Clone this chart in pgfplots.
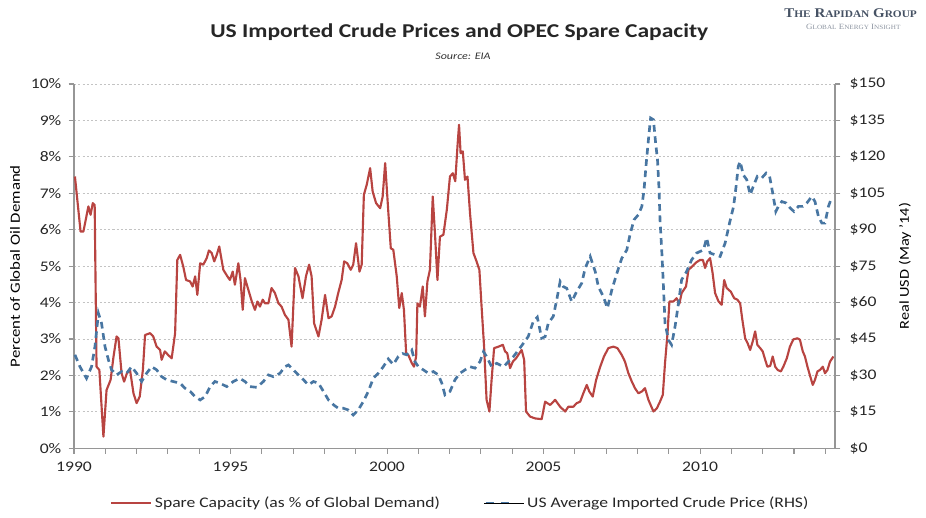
\documentclass[border=0pt]{standalone}
\usepackage{fontspec}
\setmainfont[FakeStretch=1.2]{Carlito}
\newfontfamily\logofont[FakeStretch=1.12]{Liberation Serif}
\usepackage{pgfplots}
\pgfplotsset{compat=1.18}
\definecolor{sparered}{RGB}{184,68,65}
\definecolor{priceblue}{RGB}{72,118,162}
\definecolor{gridgray}{RGB}{195,195,195}
\definecolor{axisgray}{RGB}{150,150,150}
\definecolor{logoblue}{RGB}{70,82,100}
\definecolor{logogray}{RGB}{140,148,160}

\pgfplotsset{
  common/.style={
    width=570.75pt, height=273.225pt, scale only axis,
    at={(55.5pt,52.275pt)}, anchor=south west,
    xmin=1990, xmax=2014.31,
    /pgf/number format/assume math mode=true,
    tick label style={font=\fontsize{11}{13}\selectfont, text=black!85},
    axis line style={-, axisgray, line width=0.8pt},
    tick style={axisgray, line width=0.8pt},
    tick align=outside,
    major tick length=4pt, minor tick length=4pt,
  },
  redlegend/.style={legend image code/.code={\draw[sparered, line width=1.6pt] (0pt,0pt) -- (30pt,0pt);}},
  bluelegend/.style={legend image code/.code={\draw[priceblue, line width=2pt, dash pattern=on 6pt off 5.5pt] (1pt,0pt) -- (18.5pt,0pt); \path (0pt,0pt) -- (30pt,0pt);}},
}

\begin{document}
\begin{tikzpicture}
\useasboundingbox (0,0) rectangle (694.5pt,388.5pt);

% Titles
\node[font=\bfseries\fontsize{14.7}{17}\selectfont, text=black!85] at (344.5pt,364.5pt) {US Imported Crude Prices and OPEC Spare Capacity};
\node[font=\itshape\fontsize{7.5}{9}\selectfont, text=black!80] at (347.25pt,346.5pt) {Source: EIA};
\node[font=\logofont\bfseries\fontsize{10}{12}\selectfont, text=logoblue, inner sep=0pt] at (638pt,378.75pt) {T{\fontsize{7.6}{9}\selectfont HE} R{\fontsize{7.6}{9}\selectfont APIDAN} G{\fontsize{7.6}{9}\selectfont ROUP}};
\node[font=\logofont\fontsize{6}{7}\selectfont, text=logogray, inner sep=0pt] at (640pt,368.25pt) {G{\fontsize{4.8}{6}\selectfont LOBAL} E{\fontsize{4.8}{6}\selectfont NERGY} I{\fontsize{4.8}{6}\selectfont NSIGHT}};

% Left axis: spare capacity
\begin{axis}[common,
  axis x line*=bottom, axis y line*=left,
  ymin=0, ymax=10, ytick={0,1,...,10},
  yticklabel={\pgfmathprintnumber{\tick}\%},
  y tick label style={xshift=-2pt},
  xtick={1990,1995,2000,2005,2010},
  minor xtick={1991,1992,1993,1994,1996,1997,1998,1999,2001,2002,2003,2004,2006,2007,2008,2009,2011,2012,2013,2014},
  xticklabel={\pgfmathprintnumber[1000 sep={}]{\tick}},
  x tick label style={yshift=-2.5pt},
  ymajorgrids,
  grid style={gridgray, dash pattern=on 1.6pt off 1.6pt, line width=0.7pt},
  every axis y label/.style={at={(axis description cs:-0.0775,0.5)}, rotate=90, anchor=center, font=\fontsize{10.5}{12}\selectfont},
  ylabel={Percent of Global Oil Demand},
]
\addplot[sparered, line width=1.6pt, line join=round] coordinates {
(1990.03,7.46) (1990.21,5.95) (1990.30,5.95) (1990.46,6.64) (1990.53,6.41) (1990.60,6.73) (1990.66,6.68)
(1990.72,2.24) (1990.81,2.15) (1990.94,0.32) (1991.04,1.60) (1991.17,1.88) (1991.26,2.50) (1991.36,3.07)
(1991.42,3.02) (1991.52,2.06) (1991.60,1.83) (1991.69,2.06) (1991.79,2.15) (1991.90,1.51) (1992.00,1.24)
(1992.10,1.42) (1992.20,2.15) (1992.27,3.11) (1992.43,3.16) (1992.53,3.07) (1992.64,2.79) (1992.75,2.70)
(1992.80,2.43) (1992.90,2.66) (1993.01,2.56) (1993.12,2.47) (1993.23,3.16) (1993.30,5.17) (1993.39,5.31)
(1993.49,4.99) (1993.58,4.62) (1993.71,4.58) (1993.79,4.44) (1993.87,4.72) (1993.94,4.21) (1994.03,5.08)
(1994.13,5.04) (1994.24,5.22) (1994.31,5.43) (1994.40,5.36) (1994.48,5.13) (1994.56,5.31) (1994.64,5.54)
(1994.77,4.90) (1994.90,4.72) (1994.98,4.62) (1995.07,4.85) (1995.14,4.49) (1995.25,5.08) (1995.32,4.62)
(1995.39,3.80) (1995.46,4.67) (1995.57,4.35) (1995.68,4.03) (1995.78,3.80) (1995.86,4.03) (1995.94,3.89)
(1996.03,4.08) (1996.10,3.98) (1996.21,3.98) (1996.31,4.40) (1996.42,4.26) (1996.53,3.98) (1996.63,3.89)
(1996.74,3.66) (1996.85,3.53) (1996.95,2.79) (1997.06,4.95) (1997.17,4.72) (1997.30,4.12) (1997.41,4.72)
(1997.51,5.04) (1997.59,4.72) (1997.67,3.43) (1997.81,3.07) (1997.91,3.53) (1998.02,4.21) (1998.13,3.57)
(1998.23,3.62) (1998.34,3.89) (1998.44,4.26) (1998.55,4.62) (1998.63,5.13) (1998.73,5.08) (1998.84,4.90)
(1998.92,5.04) (1999.01,5.63) (1999.12,4.85) (1999.19,5.04) (1999.26,6.96) (1999.35,7.23) (1999.46,7.69)
(1999.54,7.05) (1999.65,6.73) (1999.78,6.59) (1999.86,6.91) (1999.94,7.83) (2000.04,6.50) (2000.12,5.49)
(2000.20,5.45) (2000.31,4.72) (2000.39,3.85) (2000.47,4.26) (2000.54,3.80) (2000.61,2.61) (2000.68,2.56)
(2000.79,2.34) (2000.86,2.24) (2000.93,2.52) (2000.97,3.98) (2001.05,3.89) (2001.14,4.44) (2001.21,3.62)
(2001.29,4.58) (2001.37,4.90) (2001.46,6.91) (2001.53,5.91) (2001.61,4.62) (2001.69,5.81) (2001.80,5.86)
(2001.91,6.55) (2002.01,7.46) (2002.10,7.55) (2002.18,7.33) (2002.25,8.29) (2002.30,8.88) (2002.35,8.10)
(2002.42,8.15) (2002.49,7.37) (2002.57,7.46) (2002.65,6.46) (2002.76,5.36) (2002.86,5.13) (2002.95,4.90)
(2003.02,3.89) (2003.10,2.79) (2003.18,1.33) (2003.27,1.01) (2003.34,1.88) (2003.42,2.75) (2003.56,2.79)
(2003.70,2.84) (2003.77,2.66) (2003.84,2.61) (2003.93,2.20) (2004.02,2.38) (2004.12,2.47) (2004.23,2.61)
(2004.30,2.70) (2004.38,2.43) (2004.44,1.01) (2004.57,0.87) (2004.73,0.82) (2004.94,0.80) (2005.05,1.28)
(2005.21,1.19) (2005.37,1.33) (2005.53,1.14) (2005.69,1.01) (2005.79,1.14) (2005.95,1.14) (2006.06,1.24)
(2006.17,1.28) (2006.27,1.51) (2006.38,1.74) (2006.46,1.56) (2006.57,1.42) (2006.68,1.88) (2006.81,2.24)
(2006.93,2.52) (2007.07,2.75) (2007.23,2.79) (2007.36,2.75) (2007.50,2.56) (2007.60,2.38) (2007.71,2.06)
(2007.82,1.83) (2007.92,1.65) (2008.03,1.51) (2008.14,1.56) (2008.24,1.65) (2008.35,1.33) (2008.42,1.19)
(2008.51,1.01) (2008.62,1.10) (2008.72,1.28) (2008.81,1.47) (2008.88,2.34) (2008.96,3.16) (2009.02,4.03)
(2009.15,4.03) (2009.25,4.12) (2009.34,3.97) (2009.41,4.26) (2009.55,4.44) (2009.63,4.90) (2009.76,5.00)
(2009.87,5.10) (2010.00,5.17) (2010.09,5.17) (2010.16,4.95) (2010.23,5.13) (2010.32,5.22) (2010.40,4.81)
(2010.48,4.26) (2010.59,4.03) (2010.69,3.94) (2010.77,4.62) (2010.85,4.40) (2010.98,4.30) (2011.09,4.12)
(2011.19,4.08) (2011.28,3.98) (2011.35,3.53) (2011.44,3.02) (2011.52,2.88) (2011.60,2.70) (2011.68,2.93)
(2011.76,3.21) (2011.83,2.84) (2011.92,2.75) (2012.00,2.66) (2012.08,2.43) (2012.15,2.24) (2012.24,2.26)
(2012.32,2.52) (2012.40,2.24) (2012.48,2.15) (2012.58,2.11) (2012.66,2.24) (2012.77,2.47) (2012.87,2.79)
(2012.98,2.99) (2013.11,3.02) (2013.19,2.98) (2013.28,2.66) (2013.35,2.52) (2013.43,2.24) (2013.52,1.97)
(2013.60,1.74) (2013.67,1.88) (2013.75,2.11) (2013.83,2.15) (2013.92,2.24) (2013.99,2.06) (2014.07,2.15)
(2014.15,2.38) (2014.26,2.52)
};
\end{axis}

% Right axis: price
\begin{axis}[common,
  axis x line=none, axis y line*=right,
  ymin=0, ymax=150, ytick={0,15,...,150},
  yticklabel={\$\pgfmathprintnumber{\tick}},
  y tick label style={xshift=3.5pt},
  every axis y label/.style={at={(axis description cs:1.092,0.5)}, rotate=90, anchor=center, font=\fontsize{10.2}{12}\selectfont},
  ylabel={Real USD (May '14)},
  legend columns=2,
  legend cell align=left,
  legend style={at={(0.508,-0.150)}, anchor=center, draw=none, fill=none,
    font=\fontsize{11}{13}\selectfont, text=black!85,
    /tikz/every even column/.append style={column sep=31pt}},
]
\addlegendimage{redlegend}
\addlegendentry{Spare Capacity (as \% of Global Demand)}
\addlegendimage{bluelegend}
\addlegendentry{US Average Imported Crude Price (RHS)}
\addplot[priceblue, line width=2pt, dash pattern=on 5pt off 3.5pt, forget plot] coordinates {
(1990.03,38.5) (1990.19,33.6) (1990.40,28.8) (1990.56,33.6) (1990.67,41.9) (1990.78,55.6) (1990.88,51.5)
(1990.99,41.9) (1991.10,36.4) (1991.20,32.3) (1991.36,30.2) (1991.52,31.6) (1991.68,30.9) (1991.84,33.6)
(1992.00,30.9) (1992.16,27.5) (1992.32,30.9) (1992.48,33.6) (1992.64,32.3) (1992.80,29.5) (1992.96,28.2)
(1993.17,27.5) (1993.39,26.8) (1993.55,24.7) (1993.71,23.4) (1993.87,21.3) (1994.03,19.9) (1994.19,21.3)
(1994.35,25.4) (1994.50,27.5) (1994.66,26.8) (1994.88,25.4) (1995.09,27.5) (1995.30,28.8) (1995.46,27.5)
(1995.62,25.4) (1995.84,25.1) (1996.05,27.5) (1996.21,30.2) (1996.37,29.5) (1996.58,30.9) (1996.74,33.6)
(1996.85,34.3) (1997.01,32.3) (1997.17,30.2) (1997.33,28.2) (1997.49,26.1) (1997.65,27.5) (1997.81,26.8)
(1997.97,23.4) (1998.13,19.9) (1998.29,17.9) (1998.44,16.5) (1998.60,16.5) (1998.76,15.8) (1998.92,13.7)
(1999.08,15.8) (1999.24,19.2) (1999.40,23.4) (1999.56,28.8) (1999.72,30.9) (1999.88,33.6) (2000.04,36.8)
(2000.20,34.5) (2000.36,37.8) (2000.50,39.0) (2000.63,38.5) (2000.79,40.5) (2000.89,35.7) (2001.00,33.6)
(2001.16,32.3) (2001.32,30.9) (2001.48,31.6) (2001.64,30.2) (2001.75,26.8) (2001.85,22.0) (2002.01,23.4)
(2002.17,28.2) (2002.33,30.9) (2002.49,32.3) (2002.65,33.6) (2002.81,33.0) (2002.97,35.7) (2003.08,39.8)
(2003.18,37.8) (2003.34,33.6) (2003.50,35.0) (2003.72,33.6) (2003.88,35.7) (2004.04,37.8) (2004.20,40.5)
(2004.36,43.3) (2004.51,46.0) (2004.67,52.2) (2004.80,54.0) (2004.94,45.3) (2005.05,46.0) (2005.15,51.5)
(2005.31,54.3) (2005.42,61.1) (2005.53,68.7) (2005.63,66.6) (2005.74,65.9) (2005.90,60.4) (2006.06,64.6)
(2006.22,68.0) (2006.33,74.2) (2006.49,79.0) (2006.65,72.8) (2006.75,66.6) (2006.91,62.5) (2007.04,57.7)
(2007.18,65.2) (2007.36,72.8) (2007.50,78.3) (2007.66,81.7) (2007.76,87.9) (2007.89,94.1) (2008.03,96.2)
(2008.14,99.6) (2008.21,106.5) (2008.28,117.4) (2008.35,127.1) (2008.42,136.0) (2008.51,135.3) (2008.58,125.7)
(2008.64,118.8) (2008.69,106.5) (2008.72,94.1) (2008.78,80.4) (2008.83,66.6) (2008.88,51.5) (2008.99,44.6)
(2009.09,42.6) (2009.20,50.1) (2009.31,59.7) (2009.41,69.4) (2009.57,72.8) (2009.73,77.6) (2009.89,80.4)
(2010.11,81.7) (2010.21,86.6) (2010.32,80.4) (2010.48,79.7) (2010.64,79.0) (2010.80,84.5) (2010.94,92.7)
(2011.07,99.6) (2011.15,107.8) (2011.22,116.1) (2011.28,118.1) (2011.38,112.6) (2011.49,110.6) (2011.60,104.4)
(2011.72,108.5) (2011.83,112.0) (2011.97,111.3) (2012.11,113.3) (2012.22,112.0) (2012.32,105.1) (2012.42,97.5)
(2012.50,99.6) (2012.61,101.6) (2012.75,101.0) (2012.88,98.9) (2013.00,97.5) (2013.14,99.6) (2013.28,99.6)
(2013.41,101.0) (2013.57,103.7) (2013.67,101.6) (2013.78,95.5) (2013.89,92.7) (2013.99,92.7) (2014.10,99.6)
(2014.18,102.4)
};
\end{axis}
\end{tikzpicture}
\end{document}
